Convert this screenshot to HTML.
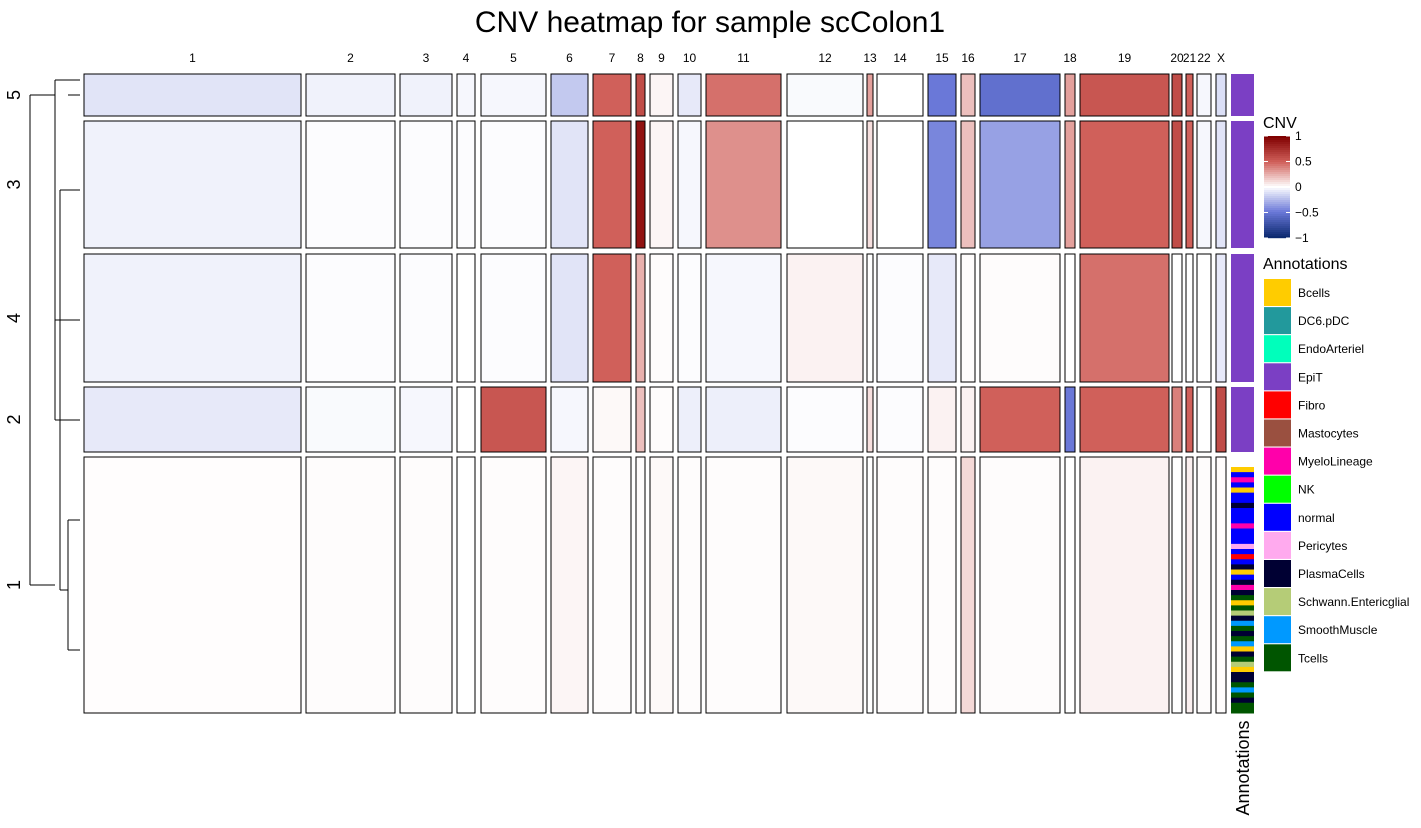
<!DOCTYPE html>
<html><head><meta charset="utf-8"><style>
body{margin:0;background:#fff;font-family:"Liberation Sans",sans-serif}
svg text{font-family:"Liberation Sans",sans-serif}
</style></head><body>
<svg id="c" width="1421" height="823" xmlns="http://www.w3.org/2000/svg">
<rect width="1421" height="823" fill="#fff"/>
<text x="710" y="32" font-size="30" text-anchor="middle">CNV heatmap for sample scColon1</text>
</svg>
<script>
// ---- data ----
const chroms = ["1","2","3","4","5","6","7","8","9","10","11","12","13","14","15","16","17","18","19","20","21","22","X"];
const clusters = ["5","3","4","2","1"];
const cnvC5 = [-0.1,-0.05,-0.05,-0.03,-0.03,-0.2,0.5,0.6,0.03,-0.08,0.45,-0.02,0.3,0,-0.5,0.2,-0.55,0.3,0.55,0.6,0.5,-0.03,-0.12];
const cnvC3 = [-0.05,-0.01,-0.01,-0.01,-0.01,-0.1,0.5,0.9,0.03,-0.03,0.35,0,0.1,0,-0.45,0.2,-0.35,0.3,0.5,0.6,0.5,-0.03,-0.1];
const cnvC4 = [-0.05,-0.01,-0.01,0,-0.01,-0.1,0.5,0.25,0.01,-0.01,-0.03,0.04,0,-0.01,-0.08,0.01,0.01,0,0.45,0,0,0,-0.08];
const cnvC2 = [-0.08,-0.02,-0.03,0,0.55,-0.03,0.02,0.2,0.01,-0.06,-0.06,-0.01,0.1,-0.01,0.04,0.04,0.5,-0.5,0.5,0.4,0.5,0,0.6];
const cnvC1 = [0.005,0.01,0.01,0,0.01,0.03,0.01,0.01,0.02,0.01,0.01,0.02,0,0.01,0.01,0.12,0.01,0,0.04,0,0.05,0.01,0.01];
const cnvValues = [cnvC5,cnvC3,cnvC4,cnvC2,cnvC1];
const annotNames = ["Bcells","DC6.pDC","EndoArteriel","EpiT","Fibro","Mastocytes","MyeloLineage","NK","normal","Pericytes","PlasmaCells","Schwann.Entericglial","SmoothMuscle","Tcells"];
const annotColors = ["#ffcc00","#22999c","#00ffbb","#7b3fc4","#ff0000","#9a5040","#ff00aa","#00ff00","#0000ff","#ffaaee","#000033","#b5cc77","#0099ff","#005500"];
const clusterAnnot = ["EpiT","EpiT","EpiT","EpiT",null];
const c1Annot = ["Bcells","normal","MyeloLineage","normal","Bcells","normal","normal","PlasmaCells","normal","normal","normal","MyeloLineage","normal","normal","normal","Pericytes","normal","Fibro","normal","PlasmaCells","Bcells","normal","PlasmaCells","MyeloLineage","PlasmaCells","Tcells","Bcells","Tcells","Schwann.Entericglial","PlasmaCells","SmoothMuscle","Tcells","PlasmaCells","Tcells","SmoothMuscle","Bcells","PlasmaCells","Tcells","Schwann.Entericglial","Bcells","PlasmaCells","PlasmaCells","Tcells","SmoothMuscle","Tcells","PlasmaCells","Tcells","Tcells"];
const legendTicks = [1,0.5,0,-0.5,-1];
// ---- layout ----
const chrX0 = [84,306,400,457,481,551,593,636,650,678,706,787,867,877,928,961,980,1065,1080,1172,1186,1197,1216];
const chrX1 = [301,395,452,475,546,588,631,645,673,701,781,863,873,923,956,975,1060,1075,1169,1182,1193,1211,1226];
const rowY0 = [74,121,254,387,457];
const rowY1 = [116,248,382,452,713];
const svg = document.getElementById('c');
const NS = "http://www.w3.org/2000/svg";
function mk(tag, attrs){const e=document.createElementNS(NS,tag);for(const k in attrs)e.setAttribute(k,attrs[k]);svg.appendChild(e);return e;}
function lerp(a,b,t){return Math.round(a+(b-a)*t);}
function mix(c1,c2,t){return `rgb(${lerp(c1[0],c2[0],t)},${lerp(c1[1],c2[1],t)},${lerp(c1[2],c2[2],t)})`;}
function color(v){
  v=Math.max(-1,Math.min(1,v));
  const W=[255,255,255],R5=[208,96,90],R1=[128,0,0],B5=[106,120,216],B1=[12,42,112];
  if(v>=0) return v<=0.5?mix(W,R5,v/0.5):mix(R5,R1,(v-0.5)/0.5);
  v=-v; return v<=0.5?mix(W,B5,v/0.5):mix(B5,B1,(v-0.5)/0.5);
}
chroms.forEach((c,i)=>{
  const t=mk('text',{x:(chrX0[i]+chrX1[i])/2,y:62,'font-size':12,'text-anchor':'middle'});
  
  
  t.textContent=c;
});
clusters.forEach((cl,r)=>{
  chroms.forEach((c,i)=>{
    const e=mk('rect',{x:chrX0[i],y:rowY0[r],width:chrX1[i]-chrX0[i],height:rowY1[r]-rowY0[r],fill:color(cnvValues[r][i]),stroke:'#000','stroke-width':1});
    
    
  });
  if(clusterAnnot[r]){
    const a=mk('rect',{x:1231,y:rowY0[r],width:23,height:rowY1[r]-rowY0[r],fill:annotColors[annotNames.indexOf(clusterAnnot[r])]});
    
    
  } else {
    const h=(rowY1[r]-rowY0[r]-10)/c1Annot.length;
    c1Annot.forEach((n,k)=>{
      const a=mk('rect',{x:1231,y:rowY0[r]+10+k*h,width:23,height:h+0.5,fill:annotColors[annotNames.indexOf(n)]});
      
      
    });
  }
  const l=mk('text',{x:0,y:0,'font-size':18,'text-anchor':'middle',transform:`translate(20,${(rowY0[r]+rowY1[r])/2}) rotate(-90)`});
  
  
  l.textContent=cl;
});
const dg=[[30,95,30,585],[30,95,55,95],[30,585,55,585],[55,80,55,420],[55,80,68,80],[55,420,60,420],[60,190,60,590],[60,190,70,190],[60,590,68,590],[55,320,68,320],[55,420,68,420],[68,95,80,95],[68,80,80,80],[70,190,80,190],[68,320,80,320],[68,420,80,420],[68,520,80,520],[68,650,80,650],[68,520,68,650]];
dg.forEach(s=>{const e=mk('line',{x1:s[0],y1:s[1],x2:s[2],y2:s[3],stroke:'#000','stroke-width':1});
});
const at=mk('text',{x:0,y:0,'font-size':18,'text-anchor':'middle',transform:'translate(1249,768) rotate(-90)'});
at.textContent='Annotations';
const lt=mk('text',{x:1263,y:128,'font-size':16});
lt.textContent='CNV';
for(let k=0;k<51;k++){const v=1-k*0.04;const e=mk('rect',{x:1264,y:136+k*2,width:26,height:2.2,fill:color(v)});
}
legendTicks.forEach(v=>{const y=136+(1-v)/2*102;
const t=mk('text',{x:1295,y:y+4,'font-size':12});t.textContent=v<0?'\u2212'+(-v):String(v);
mk('line',{x1:1264,y1:y,x2:1268,y2:y,stroke:'#fff'});mk('line',{x1:1286,y1:y,x2:1290,y2:y,stroke:'#fff'});});
const an=mk('text',{x:1263,y:269,'font-size':16});
an.textContent='Annotations';
annotNames.forEach((n,k)=>{
  const r=mk('rect',{x:1264,y:279+k*28.1,width:27,height:27,fill:annotColors[k]});
  
  const t=mk('text',{x:1298,y:297+k*28.1,'font-size':12});
  t.textContent=n;
});
</script>
</body></html>
